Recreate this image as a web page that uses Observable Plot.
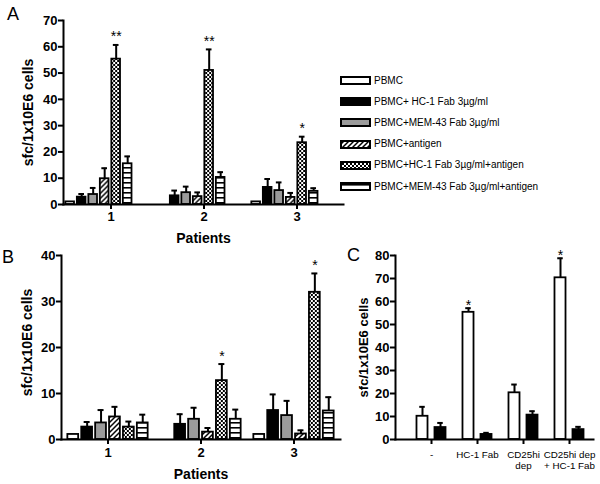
<!DOCTYPE html>
<html>
<head>
<meta charset="utf-8">
<script src="https://cdn.jsdelivr.net/npm/d3@7"></script>
<script src="https://cdn.jsdelivr.net/npm/@observablehq/plot@0.6"></script>
<style>
  body { margin: 0; background: #fff; }
  #root { position: relative; width: 600px; height: 484px; overflow: hidden;
          font-family: Arial, "Liberation Sans", Helvetica, sans-serif; color: #000; }
  #root > * { position: absolute; }
  .letter { font-size: 18px; line-height: 1; }
</style>
</head>
<body>
<svg width="0" height="0" style="position:absolute">
  <defs>
    <pattern id="pDiag" patternUnits="userSpaceOnUse" width="5" height="5">
      <rect width="5" height="5" fill="white"/>
      <path d="M0,5 L5,0 M-1,1 L1,-1 M4,6 L6,4" stroke="black" stroke-width="1.5"/>
    </pattern>
    <pattern id="pCheck" patternUnits="userSpaceOnUse" width="4" height="4">
      <rect width="4" height="4" fill="white"/>
      <rect x="0" y="0" width="2" height="2" fill="black"/>
      <rect x="2" y="2" width="2" height="2" fill="black"/>
    </pattern>
    <pattern id="pHstr" patternUnits="userSpaceOnUse" width="5" height="5">
      <rect width="5" height="5" fill="white"/>
      <rect x="0" y="2" width="5" height="1.6" fill="black"/>
    </pattern>
  </defs>
</svg>
<div id="root"></div>
<script>
// ---------- data ----------
const patients = ["1", "2", "3"];
const seriesNames = [
  "PBMC",
  "PBMC+ HC-1 Fab 3µg/ml",
  "PBMC+MEM-43 Fab 3µg/ml",
  "PBMC+antigen",
  "PBMC+HC-1 Fab 3µg/ml+antigen",
  "PBMC+MEM-43 Fab 3µg/ml+antigen"
];
// panel A (rows = patients, columns = series)
const aValues = [
  [1.0, 2.8, 3.8, 9.8, 55.3, 15.5],
  [null, 3.3, 4.5, 3.0, 51.0, 10.3],
  [1.0, 6.5, 5.3, 2.7, 23.5, 5.0]
];
const aErrors = [
  [0, 1.2, 2.5, 4.0, 5.4, 2.8],
  [0, 2.0, 2.3, 1.6, 8.0, 2.0],
  [0, 3.2, 3.1, 1.7, 2.3, 1.2]
];
const aSig = [
  ["", "", "", "", "**", ""],
  ["", "", "", "", "**", ""],
  ["", "", "", "", "*", ""]
];
// panel B
const bValues = [
  [1.1, 2.7, 3.6, 4.9, 2.7, 3.6],
  [null, 3.3, 4.4, 1.6, 12.8, 4.4],
  [1.1, 6.3, 5.2, 1.2, 32.0, 6.2]
];
const bErrors = [
  [0, 1.1, 2.8, 2.2, 1.2, 1.8],
  [0, 2.2, 2.5, 0.9, 3.6, 2.1],
  [0, 3.5, 3.2, 0.8, 4.1, 3.0]
];
const bSig = [
  ["", "", "", "", "", ""],
  ["", "", "", "", "*", ""],
  ["", "", "", "", "*", ""]
];
// panel C
const cGroups = ["-", "HC-1 Fab", "CD25hi\ndep", "CD25hi dep\n+ HC-1 Fab"];
const cValues = [[10.1, 5.2], [55.3, 2.2], [20.3, 10.6], [70.3, 4.3]];
const cErrors = [[4.1, 2.0], [1.8, 0.7], [3.6, 1.7], [8.5, 1.2]];
const cSig = [["", ""], ["*", ""], ["", ""], ["*", ""]];

const yTicksA = [0, 10, 20, 30, 40, 50, 60, 70];
const yTicksB = [0, 10, 20, 30, 40];
const yTicksC = [0, 10, 20, 30, 40, 50, 60, 70, 80];
const yLabel = "sfc/1x10E6 cells";
const xLabel = "Patients";

// ---------- styles ----------
const seriesFills = ["white", "black", "#9b9b9b", "url(#pDiag)", "url(#pCheck)", "url(#pHstr)"];
const cFills = ["white", "black"];
const FONT = 'Arial, "Liberation Sans", Helvetica, sans-serif';

function panel(o) {
  const rows = [];
  o.groups.forEach((g, gi) => o.values[gi].forEach((v, si) => {
    if (v == null) return;
    const e = o.errors[gi][si];
    rows.push({group: g, s: si, value: v, err: e, top: v + e, sig: o.sig[gi][si]});
  }));
  const band = d3.scaleBand().domain(o.groups)
    .range([o.marginLeft, o.width - o.marginRight])
    .paddingInner(o.paddingInner).paddingOuter(o.paddingOuter).align(o.align);
  const bw = band.bandwidth();
  const inset = (bw - o.barW) / 2, capInset = (bw - o.capW) / 2;
  const marks = [];
  o.offsets.forEach((off, si) => {
    const d = rows.filter(r => r.s === si);
    const e = d.filter(r => r.err > 0);
    marks.push(Plot.barY(d, {x: "group", y: "value", dx: off, insetLeft: inset, insetRight: inset,
      fill: o.fills[si], stroke: "black", strokeWidth: 1.8}));
    marks.push(Plot.ruleX(e, {x: "group", y1: "value", y2: "top", dx: off, stroke: "black", strokeWidth: 2}));
    marks.push(Plot.tickY(e, {x: "group", y: "top", dx: off, insetLeft: capInset, insetRight: capInset,
      stroke: "black", strokeWidth: 2}));
    marks.push(Plot.text(d.filter(r => r.sig), {x: "group", y: "top", dx: off, dy: o.starDy, text: "sig",
      fontSize: 14, fill: "black"}));
  });
  marks.push(Plot.frame({anchor: "left", stroke: "black", strokeWidth: 2}));
  marks.push(Plot.frame({anchor: "bottom", stroke: "black", strokeWidth: 2}));
  marks.push(Plot.axisY(o.yTicks, {tickSize: 5, tickPadding: 1, stroke: "black", strokeWidth: 2,
    fill: "black", fontWeight: "bold", fontSize: 13, label: null}));
  marks.push(Plot.axisX({tickSize: 5, tickPadding: o.xTickPadding, stroke: "black", strokeWidth: 2,
    fill: "black", fontWeight: o.xFontWeight, fontSize: o.xFontSize, lineHeight: 1.18, label: null}));
  marks.push(Plot.text([yLabel], {frameAnchor: "left", text: d => d, rotate: -90, dx: o.yLabelDx, dy: o.yLabelDy,
    textAnchor: "middle", lineAnchor: "middle",
    fontWeight: "bold", fontSize: o.yLabelSize, fill: "black"}));
  if (o.xLabel) marks.push(Plot.text([o.xLabel], {frameAnchor: "bottom", text: d => d, dy: o.xLabelDy,
    textAnchor: "middle", lineAnchor: "top", fontWeight: "bold", fontSize: 14, fill: "black"}));
  const svg = Plot.plot({
    width: o.width, height: o.height,
    marginLeft: o.marginLeft, marginRight: o.marginRight, marginTop: o.marginTop, marginBottom: o.marginBottom,
    style: {background: "transparent", fontFamily: FONT, color: "black", overflow: "visible"},
    x: {type: "band", domain: o.groups, paddingInner: o.paddingInner, paddingOuter: o.paddingOuter, align: o.align},
    y: {domain: o.yDomain},
    marks
  });
  svg.style.left = o.left + "px";
  svg.style.top = o.top + "px";
  return svg;
}

const root = document.getElementById("root");

root.appendChild(panel({
  left: 0, top: 0, width: 350, height: 248,
  marginLeft: 63, marginRight: 7, marginTop: 20, marginBottom: 44,
  groups: patients, values: aValues, errors: aErrors, sig: aSig, fills: seriesFills,
  paddingInner: 0, paddingOuter: 0, align: 0.5,
  barW: 9, capW: 6, offsets: seriesNames.map((_, i) => (i - 3.55) * 11.5),
  starDy: -8, yDomain: [0, 70], yTicks: yTicksA,
  xTickPadding: 1, xFontWeight: "bold", xFontSize: 13,
  yLabelDx: -35, yLabelDy: 0, yLabelSize: 14, xLabel: xLabel, xLabelDy: 29
}));

root.appendChild(panel({
  left: 0, top: 240, width: 347, height: 243,
  marginLeft: 61, marginRight: 7, marginTop: 15, marginBottom: 44,
  groups: patients, values: bValues, errors: bErrors, sig: bSig, fills: seriesFills,
  paddingInner: 0, paddingOuter: 0, align: 0.5,
  barW: 10.8, capW: 6, offsets: seriesNames.map((_, i) => (i - 2.5) * 13.9),
  starDy: -8, yDomain: [0, 40], yTicks: yTicksB,
  xTickPadding: 2, xFontWeight: "bold", xFontSize: 13,
  yLabelDx: -34, yLabelDy: -5, yLabelSize: 14, xLabel: xLabel, xLabelDy: 30
}));

root.appendChild(panel({
  left: 300, top: 240, width: 300, height: 243,
  marginLeft: 95, marginRight: 7, marginTop: 15, marginBottom: 44,
  groups: cGroups, values: cValues, errors: cErrors, sig: cSig, fills: cFills,
  paddingInner: 0, paddingOuter: 0.13, align: 0.94,
  barW: 11.5, capW: 6, offsets: [-9, 9],
  starDy: -3, yDomain: [0, 80], yTicks: yTicksC,
  xTickPadding: 5, xFontWeight: "normal", xFontSize: 9.8,
  yLabelDx: -32, yLabelDy: 0, yLabelSize: 13, xLabel: null, xLabelDy: 0
}));

// legend
const legend = document.createElement("div");
legend.style.cssText = "left:340px;top:70px;font-size:10px;line-height:1;";
seriesNames.forEach((name, i) => {
  const row = document.createElement("div");
  row.style.cssText = "display:flex;align-items:center;height:21.2px;";
  row.innerHTML = `<svg width="32" height="9" style="flex:none"><rect x="1" y="1" width="29" height="7" fill="${seriesFills[i]}" stroke="black" stroke-width="2"/></svg><span style="margin-left:2px;white-space:nowrap">${name}</span>`;
  legend.appendChild(row);
});
root.appendChild(legend);

// panel letters
[["A", 7, 5], ["B", 2, 248], ["C", 347, 246]].forEach(([t, x, y]) => {
  const d = document.createElement("div");
  d.className = "letter";
  d.textContent = t;
  d.style.left = x + "px";
  d.style.top = y + "px";
  root.appendChild(d);
});
</script>
</body>
</html>
